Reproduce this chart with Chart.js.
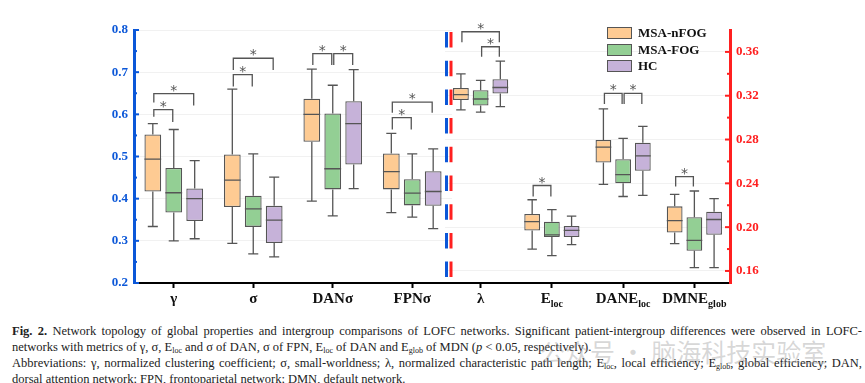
<!DOCTYPE html>
<html>
<head>
<meta charset="utf-8">
<script src="https://cdn.jsdelivr.net/npm/chart.js@4.4.1/dist/chart.umd.min.js"></script>
<style>
  body { margin: 0; background: #fff; width: 865px; height: 383px; overflow: hidden; position: relative; font-family: "Liberation Serif", serif; }
  #c1 { position: absolute; left: 0; top: 0; }
  #c2 { position: absolute; left: 445px; top: 0; }
  .legend { position: absolute; left: 607px; top: 25px; font: bold 13px "Liberation Serif", serif; color: #111; }
  .legend div { height: 16.5px; display: flex; align-items: center; }
  .legend .sw { display: inline-block; width: 23px; height: 10px; border: 1.3px solid #555; margin-right: 6px; }
  .caption { position: absolute; left: 12px; top: 323px; width: 850px; font-size: 12.5px; line-height: 16px; color: #222; }
  .caption div { white-space: nowrap; }
  .caption .j { text-align: justify; text-align-last: justify; }
  .caption sub { font-size: 8px; vertical-align: -2px; line-height: 0; }
  .wm { position: absolute; left: 540px; top: 333px; font: 25px "Noto Sans CJK SC", sans-serif; color: rgba(150,150,150,0.38); white-space: nowrap; }
</style>
</head>
<body>
<canvas id="c1" width="452" height="310"></canvas>
<canvas id="c2" width="420" height="310"></canvas>
<div class="legend">
  <div><span class="sw" style="background:#FECB93"></span>MSA-nFOG</div>
  <div><span class="sw" style="background:#93CF94"></span>MSA-FOG</div>
  <div><span class="sw" style="background:#C6B2D9"></span>HC</div>
</div>
<div class="caption">
  <div class="j"><b>Fig. 2.</b> Network topology of global properties and intergroup comparisons of LOFC networks. Significant patient-intergroup differences were observed in LOFC-</div>
  <div>networks with metrics of γ, σ, E<sub>loc</sub> and σ of DAN, σ of FPN, E<sub>loc</sub> of DAN and E<sub>glob</sub> of MDN (<i>p</i> &lt; 0.05, respectively).</div>
  <div class="j">Abbreviations: γ, normalized clustering coefficient; σ, small-worldness; λ, normalized characteristic path length; E<sub>loc</sub>, local efficiency; E<sub>glob</sub>, global efficiency; DAN,</div>
  <div>dorsal attention network; FPN, frontoparietal network; DMN, default network.</div>
</div>
<div class="wm">公众号 · 脑海科技实验室</div>
<script>
const groups = ['MSA-nFOG', 'MSA-FOG', 'HC'];
const leftCats = ['γ', 'σ', 'DANσ', 'FPNσ'];
const rightCats = ['λ', 'E_loc', 'DANE_loc', 'DMNE_glob'];

// box stats: [min, q1, median, q3, max]
const nfogLeft = [[0.334, 0.417, 0.494, 0.552, 0.578], [0.294, 0.380, 0.444, 0.505, 0.660], [0.394, 0.535, 0.600, 0.637, 0.707], [0.367, 0.422, 0.464, 0.507, 0.555]];
const fogLeft  = [[0.300, 0.367, 0.414, 0.473, 0.564], [0.269, 0.333, 0.376, 0.407, 0.506], [0.359, 0.422, 0.471, 0.602, 0.669], [0.356, 0.384, 0.413, 0.446, 0.506]];
const hcLeft   = [[0.305, 0.347, 0.400, 0.424, 0.490], [0.262, 0.295, 0.349, 0.383, 0.451], [0.424, 0.481, 0.578, 0.631, 0.706], [0.329, 0.383, 0.417, 0.465, 0.518]];

const nfogRight = [[0.307, 0.316, 0.321, 0.327, 0.340], [0.180, 0.197, 0.205, 0.212, 0.225], [0.239, 0.259, 0.273, 0.2795, 0.308], [0.185, 0.195, 0.206, 0.219, 0.230]];
const fogRight  = [[0.305, 0.311, 0.317, 0.325, 0.334], [0.174, 0.191, 0.193, 0.205, 0.216], [0.228, 0.240, 0.248, 0.262, 0.281], [0.163, 0.1785, 0.188, 0.209, 0.233]];
const hcRight   = [[0.310, 0.322, 0.3275, 0.335, 0.3515], [0.184, 0.191, 0.197, 0.201, 0.210], [0.229, 0.2515, 0.265, 0.277, 0.292], [0.163, 0.193, 0.207, 0.214, 0.226]];

const leftTicks = [0.2, 0.25, 0.3, 0.35, 0.4, 0.45, 0.5, 0.55, 0.6, 0.65, 0.7, 0.75, 0.8];
const rightTicks = [0.16, 0.18, 0.2, 0.22, 0.24, 0.26, 0.28, 0.3, 0.32, 0.34, 0.36];

// significance brackets: [category, group a, group b, top, leg end a, leg end b]
const leftSig = [
  [0, 0, 1, 0.611, 0.594, 0.582], [0, 0, 2, 0.649, 0.628, 0.621],
  [1, 0, 1, 0.694, 0.666, 0.666], [1, 0, 2, 0.733, 0.705, 0.705],
  [2, 0, 1, 0.744, 0.717, 0.717], [2, 1, 2, 0.744, 0.717, 0.717],
  [3, 0, 1, 0.592, 0.564, 0.564], [3, 0, 2, 0.629, 0.604, 0.604]
];
const rightSig = [
  [0, 0, 2, 0.3784, 0.3688, 0.3688], [0, 1, 2, 0.3647, 0.3556, 0.3556],
  [1, 0, 1, 0.238, 0.228, 0.228],
  [2, 0, 1, 0.3222, 0.3125, 0.3125], [2, 1, 2, 0.3222, 0.3125, 0.3125],
  [3, 0, 1, 0.2462, 0.2371, 0.2371]
];

const fills = ['#FECB93', '#93CF94', '#C6B2D9'];
const BLUE = '#0b57d8', RED = '#ff2020', EDGE = '#555';

function boxSets(list, catPct) {
  return list.map((stats, g) => ({
    label: groups[g],
    data: stats.map(s => [s[1], s[3]]),
    stats: stats,
    backgroundColor: fills[g],
    borderColor: EDGE,
    borderWidth: 1.3,
    borderSkipped: false,
    categoryPercentage: catPct,
    barPercentage: 0.8
  }));
}

const boxPlugin = {
  id: 'boxes',
  afterDatasetsDraw(chart, args, opts) {
    const ctx = chart.ctx, y = chart.scales.y, x = chart.scales.x, area = chart.chartArea;
    ctx.save();
    ctx.strokeStyle = EDGE;
    ctx.lineWidth = 1.3;
    chart.data.datasets.forEach((ds, d) => {
      chart.getDatasetMeta(d).data.forEach((bar, i) => {
        const s = ds.stats[i], cx = bar.x, w = bar.width, cap = w * 0.3;
        const p = s.map(v => y.getPixelForValue(v));
        ctx.beginPath();
        ctx.moveTo(cx, p[3]); ctx.lineTo(cx, p[4]);
        ctx.moveTo(cx, p[1]); ctx.lineTo(cx, p[0]);
        ctx.moveTo(cx - cap, p[4]); ctx.lineTo(cx + cap, p[4]);
        ctx.moveTo(cx - cap, p[0]); ctx.lineTo(cx + cap, p[0]);
        ctx.moveTo(cx - w / 2, p[2]); ctx.lineTo(cx + w / 2, p[2]);
        ctx.stroke();
      });
    });

    // significance brackets
    ctx.fillStyle = EDGE;
    ctx.font = '14px "DejaVu Sans"';
    ctx.textAlign = 'center';
    ctx.textBaseline = 'alphabetic';
    opts.sig.forEach(b => {
      const xa = chart.getDatasetMeta(b[1]).data[b[0]].x + 1;
      const xb = chart.getDatasetMeta(b[2]).data[b[0]].x - 1;
      const top = y.getPixelForValue(b[3]);
      ctx.beginPath();
      ctx.moveTo(xa, y.getPixelForValue(b[4]));
      ctx.lineTo(xa, top);
      ctx.lineTo(xb, top);
      ctx.lineTo(xb, y.getPixelForValue(b[5]));
      ctx.stroke();
      ctx.fillText('*', (xa + xb) / 2, top + 1);
    });

    // category labels with subscripts
    ctx.fillStyle = '#111';
    ctx.textAlign = 'left';
    opts.cats.forEach((c, i) => {
      const [main, sub] = c.split('_');
      ctx.font = 'bold 15px "Liberation Serif"';
      const wm = ctx.measureText(main).width;
      ctx.font = 'bold 10px "Liberation Serif"';
      const ws = sub ? ctx.measureText(sub).width : 0;
      const left = x.getPixelForValue(i) - (wm + ws) / 2;
      ctx.font = 'bold 15px "Liberation Serif"';
      ctx.fillText(main, left, area.bottom + 20);
      if (sub) {
        ctx.font = 'bold 10px "Liberation Serif"';
        ctx.fillText(sub, left + wm, area.bottom + 23.5);
      }
    });

    // inward axis ticks
    ctx.strokeStyle = opts.axisColor;
    ctx.lineWidth = 2;
    const x0 = opts.right ? area.right : area.left, dir = opts.right ? -1 : 1;
    y.ticks.forEach(t => {
      const py = y.getPixelForValue(t.value), len = t.label ? 5 : 3;
      ctx.beginPath();
      ctx.moveTo(x0, py);
      ctx.lineTo(x0 + dir * len, py);
      ctx.stroke();
    });

    // panel divider
    if (opts.right) {
      ctx.lineWidth = 3;
      ctx.setLineDash([15.5, 13.2]);
      [[BLUE, area.left + 1.5], [RED, area.left + 6]].forEach(([col, px]) => {
        ctx.strokeStyle = col;
        ctx.beginPath();
        ctx.moveTo(px, area.top + 2);
        ctx.lineTo(px, area.bottom - 5);
        ctx.stroke();
      });
    }
    ctx.restore();
  }
};

function xAxis() {
  return {
    offset: true,
    grid: { display: true, drawOnChartArea: false, offset: false, tickLength: 5, tickWidth: 2, tickColor: '#000' },
    border: { color: '#000', width: 2 },
    ticks: { display: false },
    afterFit: s => { s.height = 27; }
  };
}

new Chart(document.getElementById('c1'), {
  type: 'bar',
  data: { labels: leftCats, datasets: boxSets([nfogLeft, fogLeft, hcLeft], 0.79) },
  options: {
    responsive: false,
    animation: false,
    devicePixelRatio: 1,
    layout: { padding: { top: 30, right: 0, left: 0, bottom: 0 } },
    plugins: {
      legend: { display: false },
      tooltip: { enabled: false },
      boxes: { sig: leftSig, cats: leftCats, axisColor: BLUE, right: false }
    },
    scales: {
      x: xAxis(),
      y: {
        min: 0.2, max: 0.8,
        afterBuildTicks: s => { s.ticks = leftTicks.map(v => ({ value: v })); },
        afterFit: s => { s.width = 134; },
        border: { color: BLUE, width: 3 },
        grid: { drawTicks: false, color: c => Math.round(c.tick.value * 100) % 10 === 0 ? '#f1f1f1' : 'rgba(0,0,0,0)' },
        ticks: {
          autoSkip: false, padding: 6, color: BLUE,
          font: { family: 'Liberation Serif', size: 13, weight: 'bold' },
          callback: v => Math.round(v * 100) % 10 === 0 ? v.toFixed(1) : ''
        }
      }
    }
  },
  plugins: [boxPlugin]
});

new Chart(document.getElementById('c2'), {
  type: 'bar',
  data: { labels: rightCats, datasets: boxSets([nfogRight, fogRight, hcRight], 0.83) },
  options: {
    responsive: false,
    animation: false,
    devicePixelRatio: 1,
    layout: { padding: { top: 30, right: 0, left: 0, bottom: 0 } },
    plugins: {
      legend: { display: false },
      tooltip: { enabled: false },
      boxes: { sig: rightSig, cats: rightCats, axisColor: RED, right: true }
    },
    scales: {
      x: xAxis(),
      y: {
        position: 'right',
        min: 0.149, max: 0.38,
        afterBuildTicks: s => { s.ticks = rightTicks.map(v => ({ value: v })); },
        afterFit: s => { s.width = 135; },
        border: { color: RED, width: 3 },
        grid: { drawTicks: false, color: c => Math.round(c.tick.value * 100) % 4 === 0 ? '#f1f1f1' : 'rgba(0,0,0,0)' },
        ticks: {
          autoSkip: false, padding: 6, color: RED,
          font: { family: 'Liberation Serif', size: 13, weight: 'bold' },
          callback: v => Math.round(v * 100) % 4 === 0 ? v.toFixed(2) : ''
        }
      }
    }
  },
  plugins: [boxPlugin]
});
</script>
</body>
</html>
